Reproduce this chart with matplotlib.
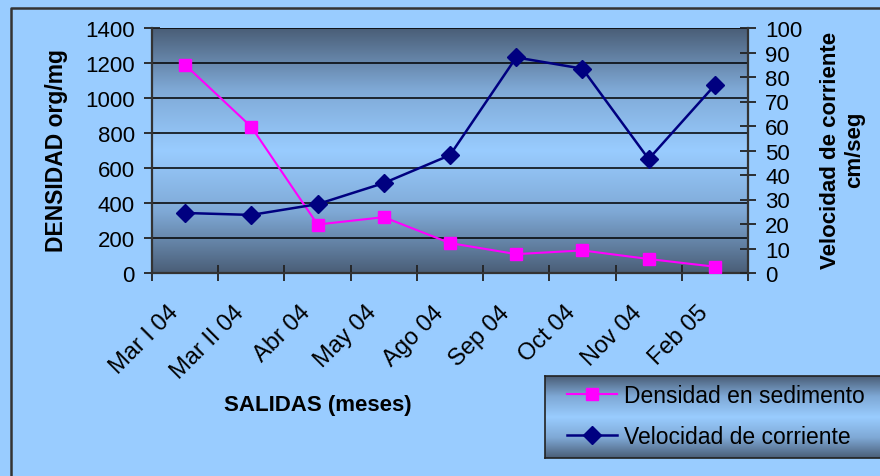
import numpy as np
import matplotlib
matplotlib.use("Agg")
import matplotlib.pyplot as plt
import matplotlib.transforms as mtransforms
from matplotlib.colors import LinearSegmentedColormap
from matplotlib.lines import Line2D

plt.rcParams['font.family'] = ['Liberation Sans', 'DejaVu Sans']

# Sampling dates and measured values
categories = ['Mar I 04', 'Mar II 04', 'Abr 04', 'May 04', 'Ago 04',
              'Sep 04', 'Oct 04', 'Nov 04', 'Feb 05']
densidad = [1190, 835, 277, 319, 171, 108, 129, 80, 36]          # org/mg
velocidad = [24.5, 23.7, 28.1, 36.7, 48.1, 88.0, 83.4, 46.5, 76.7]  # cm/seg
left_ticks = list(range(0, 1401, 200))
right_ticks = list(range(0, 101, 10))

W, H = 880, 477
fig = plt.figure(figsize=(W / 100, H / 100), dpi=100, facecolor='#99CCFF')

horizon = LinearSegmentedColormap.from_list(
    'horizon', ['#4A5E77', '#7FA9D6', '#99CCFF', '#7FA9D6', '#4A5E77'])
grad = np.linspace(0, 1, 256).reshape(-1, 1)

TICK_FS = 16
CAT_FS = 17
TITLE_FS = 16

# Main plot area
ax = fig.add_axes([152 / W, 1 - 274 / H, (748 - 152) / W, (274 - 29) / H])
ax.imshow(grad, cmap=horizon, aspect='auto', extent=[0, 1, 0, 1],
          transform=ax.transAxes, zorder=0, interpolation='bilinear')
x = np.arange(len(categories))
l1, = ax.plot(x, densidad, color='#FF00FF', marker='s', ms=8, lw=1.5,
              label='Densidad en sedimento', zorder=3)
ax.set_xlim(-0.5, len(categories) - 0.5)
ax.set_ylim(0, 1400)
ax.set_yticks(left_ticks)
ax.yaxis.grid(True, color='black', lw=1.1)
ax.set_xticks(np.arange(-0.5, len(categories), 1))
ax.set_xticklabels([])
ax.tick_params(axis='y', direction='inout', length=11, width=1.3,
               labelsize=TICK_FS, pad=7, color='#222222')
ax.tick_params(axis='x', direction='inout', length=11, width=1.3,
               color='#222222')

ax2 = ax.twinx()
l2, = ax2.plot(x, velocidad, color='#000080', marker='D', ms=9, lw=1.8,
               label='Velocidad de corriente', zorder=3)
ax2.set_ylim(0, 100)
ax2.set_yticks(right_ticks)
ax2.tick_params(axis='y', direction='inout', length=11, width=1.3,
                labelsize=TICK_FS, pad=7, color='#222222')

for s in ('top', 'right'):
    ax.spines[s].set_visible(False)
for s in ('left', 'bottom'):
    ax.spines[s].set_color('#333333')
    ax.spines[s].set_linewidth(1.6)
for s in ('top', 'left', 'bottom'):
    ax2.spines[s].set_visible(False)
ax2.spines['right'].set_color('#333333')
ax2.spines['right'].set_linewidth(1.6)

# Rotated category labels
offset = mtransforms.ScaledTranslation(-18 / 100, -28 / 100, fig.dpi_scale_trans)
trans = mtransforms.blended_transform_factory(ax.transData, ax.transAxes) + offset
for i, c in enumerate(categories):
    ax.text(i, 0, c, transform=trans, rotation=45, ha='right', va='top',
            rotation_mode='anchor', fontsize=CAT_FS)

# Axis titles
fig.text(57 / W, 1 - 151 / H, 'DENSIDAD org/mg', rotation=90, ha='center',
         va='center', fontsize=TITLE_FS + 0.5, weight='bold')
fig.text(843 / W, 1 - 150 / H, 'Velocidad de corriente\ncm/seg', rotation=90,
         ha='center', va='center', multialignment='center', fontsize=TITLE_FS,
         weight='bold', linespacing=1.2)
fig.text(318 / W, 1 - 406 / H, 'SALIDAS (meses)', ha='center', va='center',
         fontsize=TITLE_FS, weight='bold')

# Legend box with the same shaded fill
lax = fig.add_axes([545 / W, 1 - 459 / H, 345 / W, 82 / H])
lax.imshow(grad, cmap=horizon, aspect='auto', extent=[0, 1, 0, 1],
           transform=lax.transAxes, zorder=0, interpolation='bilinear')
lax.set_xticks([])
lax.set_yticks([])
for s in lax.spines.values():
    s.set_color('#222222')
    s.set_linewidth(1.2)
lax.legend(handles=[l1, l2], loc='center left',
           bbox_to_anchor=((567 - 545) / 345, 0.51), frameon=False,
           fontsize=16.5, handlelength=2.2, handletextpad=0.3,
           labelspacing=0.8, borderaxespad=0, borderpad=0)

# Outer chart border
fig.add_artist(Line2D([11 / W, 11 / W, 1], [0, 1 - 9 / H, 1 - 9 / H],
                      transform=fig.transFigure, color='#333333', lw=1.8))

fig.savefig('out.png', dpi=100, facecolor=fig.get_facecolor())
